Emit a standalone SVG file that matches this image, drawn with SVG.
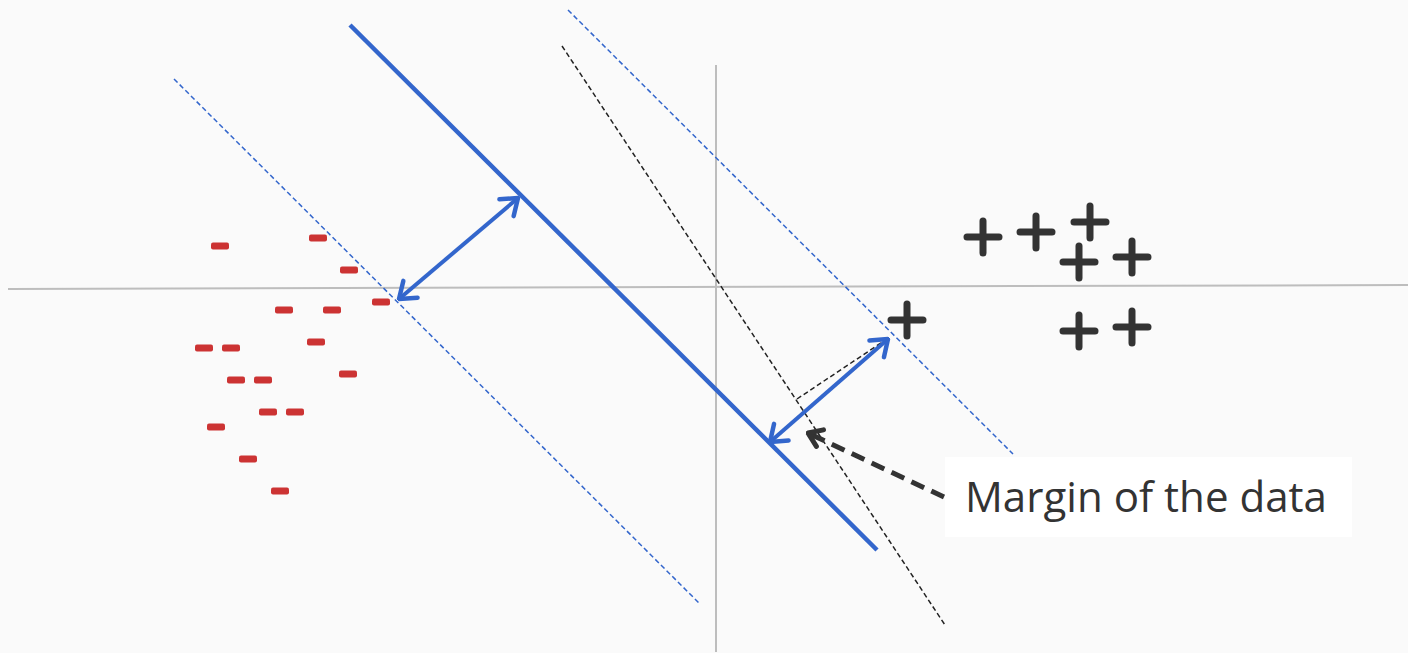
<svg xmlns="http://www.w3.org/2000/svg" width="1408" height="653" viewBox="0 0 1408 653">
<style>
.axis{stroke:#bdbdbd;stroke-width:2;fill:none}
.main{stroke:#3366cc;stroke-width:4.5;fill:none}
.bdash{stroke:#3366cc;stroke-width:1.5;stroke-dasharray:5 3;fill:none}
.kdash{stroke:#222;stroke-width:1.5;stroke-dasharray:5 3;fill:none}
.barrow{stroke:#3366cc;stroke-width:4;fill:none}
.minus{fill:#cc3333}
.plus{stroke:#333;stroke-width:7;stroke-linecap:round;fill:none}
.lbl{font-family:"Open Sans","Liberation Sans",sans-serif;font-size:42px;fill:#333}
</style>
<defs>
<marker id="bhead" viewBox="-18 -14 20 28" refX="0" refY="0" markerWidth="20" markerHeight="28" markerUnits="userSpaceOnUse" orient="auto-start-reverse">
<polyline points="-15,-11 0,0 -15,11" fill="none" stroke="#3366cc" stroke-width="4.5" stroke-linecap="round" stroke-linejoin="round"/>
</marker>
<marker id="khead" viewBox="-16 -12 18 24" refX="0" refY="0" markerWidth="18" markerHeight="24" markerUnits="userSpaceOnUse" orient="auto">
<polyline points="-13,-9 0,0 -13,9" fill="none" stroke="#333" stroke-width="5" stroke-linecap="round" stroke-linejoin="round"/>
</marker>
</defs>
<rect width="1408" height="653" fill="#fafafa"/>
<g id="axes">
<line class="axis" x1="8" y1="289" x2="1408" y2="285"/>
<line class="axis" x1="716" y1="65" x2="716" y2="652"/>
</g>
<g id="connectors">
<line class="main" x1="350" y1="25" x2="877" y2="550"/>
<line class="bdash" x1="174" y1="79" x2="700" y2="604"/>
<line class="bdash" x1="568" y1="10" x2="1013" y2="454"/>
<line class="kdash" x1="562" y1="46" x2="945" y2="625"/>
<line class="kdash" x1="797" y1="399" x2="890" y2="337"/>
<line class="barrow" x1="518" y1="198" x2="399" y2="299" marker-start="url(#bhead)" marker-end="url(#bhead)"/>
<line class="barrow" x1="888" y1="339" x2="770" y2="442" marker-start="url(#bhead)" marker-end="url(#bhead)"/>
<line x1="944" y1="497" x2="810" y2="434" stroke="#333" stroke-width="5" stroke-dasharray="14 8" fill="none"/>
<line x1="815" y1="436" x2="808" y2="433" stroke="#333" stroke-width="5" marker-end="url(#khead)"/>
</g>
<g id="minus-class">
<rect class="minus" x="211" y="242.5" width="18" height="7" rx="2"/>
<rect class="minus" x="309" y="234.5" width="18" height="7" rx="2"/>
<rect class="minus" x="340" y="266.5" width="18" height="7" rx="2"/>
<rect class="minus" x="372" y="298.5" width="18" height="7" rx="2"/>
<rect class="minus" x="275" y="306.5" width="18" height="7" rx="2"/>
<rect class="minus" x="323" y="306.5" width="18" height="7" rx="2"/>
<rect class="minus" x="307" y="338.5" width="18" height="7" rx="2"/>
<rect class="minus" x="195" y="344.5" width="18" height="7" rx="2"/>
<rect class="minus" x="222" y="344.5" width="18" height="7" rx="2"/>
<rect class="minus" x="339" y="370.5" width="18" height="7" rx="2"/>
<rect class="minus" x="227" y="376.5" width="18" height="7" rx="2"/>
<rect class="minus" x="254" y="376.5" width="18" height="7" rx="2"/>
<rect class="minus" x="259" y="408.5" width="18" height="7" rx="2"/>
<rect class="minus" x="286" y="408.5" width="18" height="7" rx="2"/>
<rect class="minus" x="207" y="423.5" width="18" height="7" rx="2"/>
<rect class="minus" x="239" y="455.5" width="18" height="7" rx="2"/>
<rect class="minus" x="271" y="487.5" width="18" height="7" rx="2"/>
</g>
<g id="plus-class">
<path class="plus" d="M967,237h32M983,221v32"/>
<path class="plus" d="M1020,232h32M1036,216v32"/>
<path class="plus" d="M1074,222h32M1090,206v32"/>
<path class="plus" d="M1063,262h32M1079,246v32"/>
<path class="plus" d="M1116,257h32M1132,241v32"/>
<path class="plus" d="M1063,331h32M1079,315v32"/>
<path class="plus" d="M1116,327h32M1132,311v32"/>
<path class="plus" d="M891,320h32M907,304v32"/>
</g>
<g id="label">
<rect x="945" y="457" width="407" height="80" fill="#ffffff"/>
<text class="lbl" x="965" y="512" textLength="362" lengthAdjust="spacingAndGlyphs">Margin of the data</text>
</g>
</svg>
